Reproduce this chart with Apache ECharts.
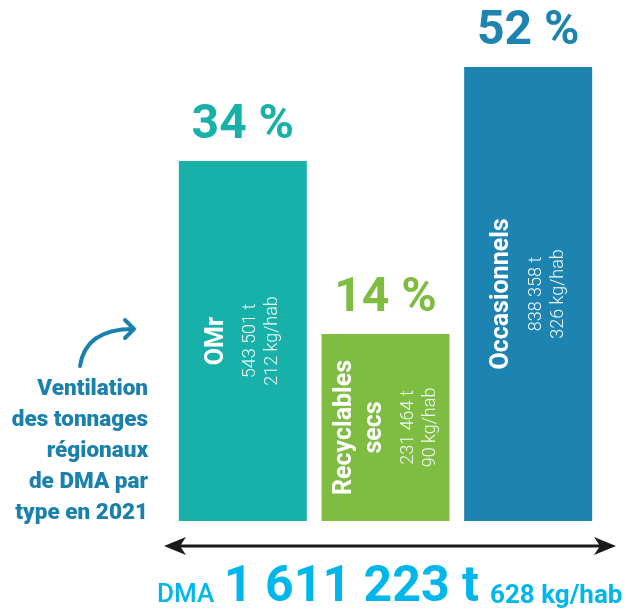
<!DOCTYPE html>
<html>
<head>
<meta charset="utf-8">
<script src="https://cdn.jsdelivr.net/npm/echarts@6/dist/echarts.min.js"></script>
<style>
  html, body { margin: 0; padding: 0; background: #fff; }
  #dma { width: 627px; height: 610px; }
</style>
</head>
<body>
<div id="dma"></div>
<script>
// types de DMA
const categories = ['OMr', 'Recyclables\nsecs', 'Occasionnels']
const tonnes = [543501, 231464, 838358]
const kgHab = [212, 90, 326]
const shares = [34, 14, 52]
// hauteur dessinée des barres (pas à l'échelle), en % de la plus haute
const barHeights = [79.3, 41.2, 100]
const colors = ['#17b1a9', '#7ebc42', '#1d83b0']
// total régional
const totalTonnes = 1611223
const totalKgHab = 628

const fmt = (n) => n.toString().replace(/\B(?=(\d{3})+(?!\d))/g, ' ')
const blue = '#1a80ac'
const cyan = '#00b6ea'

let myChart = echarts.init(document.getElementById('dma'))

const option = {
  animation: false,
  textStyle: { fontFamily: 'Roboto' },
  grid: { left: 171.5, right: 27.5, top: 67, bottom: 89 },
  xAxis: {
    type: 'category',
    data: categories,
    axisLine: { show: false },
    axisTick: { show: false },
    axisLabel: { show: false }
  },
  yAxis: {
    type: 'value',
    min: 0,
    max: 100,
    show: false,
    splitLine: { show: false }
  },
  series: [
    {
      type: 'bar',
      barWidth: 128,
      data: barHeights.map((v, i) => ({ value: v, itemStyle: { color: colors[i] } })),
      label: {
        show: true,
        position: 'inside',
        rotate: 90,
        color: '#fff',
        formatter: (p) => {
          const i = p.dataIndex
          const name = categories[i].split('\n').map(s => '{n|' + s + '}').join('\n')
          return name + '\n{g| }\n{d|' + fmt(tonnes[i]) + ' t}\n{d|' + kgHab[i] + ' kg/hab}'
        },
        rich: {
          n: { fontSize: 25, fontWeight: 'bold', lineHeight: 30, color: '#fff', fontFamily: 'Roboto' },
          g: { fontSize: 4, lineHeight: 8 },
          d: { fontSize: 18, fontWeight: 300, lineHeight: 22, color: '#f2fbfa', fontFamily: 'Roboto' }
        }
      }
    },
    {
      // pourcentages au-dessus des barres
      type: 'bar',
      barWidth: 128,
      barGap: '-100%',
      silent: true,
      itemStyle: { color: 'transparent' },
      data: barHeights.map((v, i) => ({ value: v, label: { color: colors[i] } })),
      label: {
        show: true,
        position: 'top',
        distance: 11,
        fontSize: 48,
        fontWeight: 'bold',
        fontFamily: 'Roboto',
        formatter: (p) => shares[p.dataIndex] + ' %'
      }
    }
  ],
  graphic: [
    {
      type: 'text',
      x: 148,
      y: 451,
      style: {
        text: 'Ventilation\ndes tonnages\nrégionaux\nde DMA par\ntype en 2021',
        fill: blue,
        font: '900 22.5px Roboto',
        lineHeight: 31,
        align: 'right',
        verticalAlign: 'middle'
      }
    },
    // flèche courbe
    {
      type: 'bezierCurve',
      shape: { x1: 80, y1: 366, cpx1: 84, cpy1: 340, cpx2: 104, cpy2: 329, x2: 133, y2: 329 },
      style: { stroke: blue, lineWidth: 4, fill: null, lineCap: 'round' }
    },
    {
      type: 'polyline',
      shape: { points: [[125, 320], [134, 329], [125, 338]] },
      style: { stroke: blue, lineWidth: 4, fill: null, lineCap: 'round', lineJoin: 'round' }
    },
    // double flèche du total
    {
      type: 'line',
      shape: { x1: 172, y1: 546, x2: 608, y2: 546 },
      style: { stroke: '#1a1a1a', lineWidth: 3 }
    },
    {
      type: 'polygon',
      shape: { points: [[164, 546], [186, 537], [180, 546], [186, 555]] },
      style: { fill: '#1a1a1a' }
    },
    {
      type: 'polygon',
      shape: { points: [[616, 546], [594, 537], [600, 546], [594, 555]] },
      style: { fill: '#1a1a1a' }
    },
    {
      type: 'text',
      x: 157,
      y: 595,
      style: { text: 'DMA', fill: cyan, font: '500 26px Roboto', verticalAlign: 'middle' }
    },
    {
      type: 'text',
      x: 224,
      y: 588,
      style: { text: fmt(totalTonnes) + ' t', fill: cyan, font: 'bold 50px Roboto', verticalAlign: 'middle' }
    },
    {
      type: 'text',
      x: 490,
      y: 596,
      style: { text: totalKgHab + ' kg/hab', fill: cyan, font: 'bold 26px Roboto', verticalAlign: 'middle' }
    }
  ]
}

window.onresize = myChart.resize
myChart.setOption(option)
</script>
</body>
</html>
